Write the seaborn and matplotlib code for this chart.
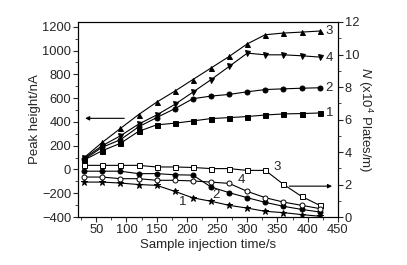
import numpy as np
import pandas as pd
import matplotlib
matplotlib.use("Agg")
import matplotlib.pyplot as plt
import seaborn as sns

# Sample injection time (s)
times = [30, 60, 90, 120, 150, 180, 210, 240, 270, 300, 330, 360, 390, 420]

# Peak height (nA), left axis
peak_1 = [80, 158, 220, 320, 375, 389, 408, 428, 436, 445, 458, 467, 470, 475]
peak_2 = [85, 187, 250, 358, 436, 511, 595, 617, 631, 653, 672, 678, 683, 687]
peak_3 = [100, 228, 345, 461, 566, 658, 756, 853, 950, 1056, 1133, 1147, 1155, 1164]
peak_4 = [95, 200, 283, 381, 458, 547, 650, 755, 866, 978, 964, 964, 956, 945]

# Plate number N (x10^4 plates/m), right axis
plates_1 = [2.15, 2.15, 2.09, 2.0, 1.95, 1.58, 1.18, 0.97, 0.72, 0.55, 0.35, 0.27, 0.15, 0.05]
plates_2 = [2.82, 2.82, 2.82, 2.67, 2.67, 2.60, 2.58, 1.85, 1.50, 1.19, 0.90, 0.66, 0.47, 0.31]
plates_3 = [3.18, 3.18, 3.18, 3.18, 3.08, 3.08, 3.05, 2.98, 2.98, 2.87, 2.87, 2.01, 1.27, 0.72]
plates_4 = [2.46, 2.46, 2.36, 2.36, 2.26, 2.26, 2.22, 2.15, 2.07, 1.58, 1.19, 0.92, 0.72, 0.52]

sns.set_style("ticks")
plt.rcParams['font.family'] = ['Liberation Sans', 'DejaVu Sans']
plt.rcParams['mathtext.fontset'] = 'custom'
plt.rcParams['mathtext.it'] = 'Liberation Sans:italic'
plt.rcParams['mathtext.rm'] = 'Liberation Sans'

fig = plt.figure(figsize=(4.07, 2.65), dpi=100)
ax = fig.add_axes([0.192, 0.181, 0.638, 0.736])
ax2 = ax.twinx()

line_kw = dict(color='black', linewidth=0.8, markersize=3.6, markeredgecolor='black', markeredgewidth=0.7)

# left axis series: filled markers
left_series = [(peak_1, 's'), (peak_2, 'o'), (peak_3, '^'), (peak_4, 'v')]
for vals, mk in left_series:
    df = pd.DataFrame({'time': times, 'value': vals})
    sns.lineplot(data=df, x='time', y='value', ax=ax, marker=mk,
                 markerfacecolor='black', **line_kw)

# right axis series
right_series = [(plates_1, '*', 'black', 5), (plates_2, 'o', 'black', 3.6),
                (plates_3, 's', 'white', 3.6), (plates_4, 'o', 'white', 3.6)]
for vals, mk, fc, ms in right_series:
    df = pd.DataFrame({'time': times, 'value': vals})
    kw = dict(line_kw)
    kw['markersize'] = ms
    sns.lineplot(data=df, x='time', y='value', ax=ax2, marker=mk,
                 markerfacecolor=fc, **kw)

ax.set_xlim(20, 450)
ax.set_ylim(-400, 1240)
ax2.set_ylim(0, 12)
ax.set_xticks(np.arange(50, 451, 50))
ax.set_xticks(np.arange(25, 451, 25), minor=True)
ax.set_yticks(np.arange(-400, 1201, 200))
ax.set_yticks(np.arange(-400, 1201, 100), minor=True)
ax2.set_yticks(np.arange(0, 13, 2))
ax2.set_yticks(np.arange(0, 13, 1), minor=True)

for a in (ax, ax2):
    a.tick_params(which='major', direction='out', length=3.5, width=0.8, labelsize=9.3, pad=1.5)
    a.tick_params(which='minor', direction='out', length=2, width=0.6)
    for sp in a.spines.values():
        sp.set_linewidth(0.8)
        sp.set_color('black')

ax.set_xlabel('Sample injection time/s', fontsize=9.5, labelpad=2)
ax.set_ylabel('Peak height/nA', fontsize=9.5, labelpad=1)
ax2.set_ylabel(r'$N$ (x10$^4$ Plates/m)', fontsize=9.5, rotation=270, labelpad=11)

# arrows pointing to the axes
ax.annotate('', xy=(27, 430), xytext=(101, 430),
            arrowprops=dict(arrowstyle='-|>', color='black', lw=0.8, mutation_scale=6))
ax2.annotate('', xy=(445, 1.9), xytext=(365, 1.9),
             arrowprops=dict(arrowstyle='-|>', color='black', lw=0.8, mutation_scale=6))

# series labels
for lab, yv in [('3', 1164), ('4', 935), ('2', 686), ('1', 478)]:
    ax.text(430, yv, lab, fontsize=9.5, va='center', ha='left')
for lab, xv, yv in [('3', 350, 3.05), ('4', 291, 2.26), ('2', 249, 1.34), ('1', 193, 0.9)]:
    ax2.text(xv, yv, lab, fontsize=9.5, va='center', ha='center')

fig.savefig('out.png', dpi=100)
